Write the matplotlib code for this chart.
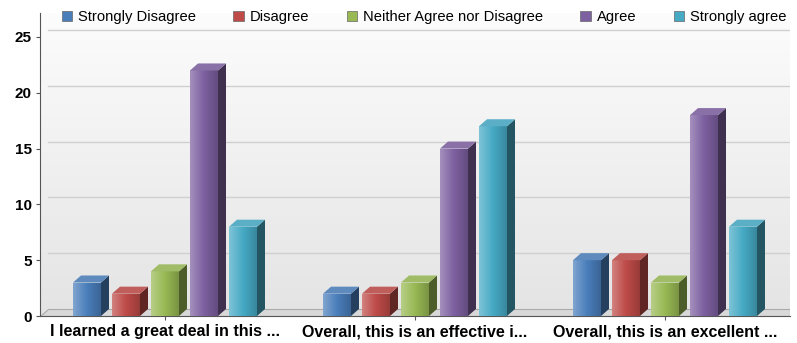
import numpy as np
import matplotlib
matplotlib.use("Agg")
import matplotlib.pyplot as plt
from matplotlib.patches import Polygon
import matplotlib.colors as mcolors

categories = ["I learned a great deal in this ...",
              "Overall, this is an effective i...",
              "Overall, this is an excellent ..."]
series = ["Strongly Disagree", "Disagree", "Neither Agree nor Disagree", "Agree", "Strongly agree"]
values = {
    "Strongly Disagree": [3, 2, 5],
    "Disagree": [2, 2, 5],
    "Neither Agree nor Disagree": [4, 3, 3],
    "Agree": [22, 15, 18],
    "Strongly agree": [8, 17, 8],
}
colors = ["#4a7ebb", "#be4b48", "#98b954", "#7d60a0", "#46aac5"]
yticks = [0, 5, 10, 15, 20, 25]

plt.rcParams['font.family'] = ['Liberation Sans', 'DejaVu Sans']

fig = plt.figure(figsize=(7.97, 3.43), dpi=100)
ax = fig.add_axes([40/797, 27/343, 750/797, 303/343])
ymax = 303/11.16
ax.set_xlim(-0.5, 2.5)
ax.set_ylim(0, ymax)

dx, dy = 0.032, 0.63
w = 0.112
step = 0.156

# background planes
bg = np.linspace(0, 1, 100).reshape(-1, 1)
ax.imshow(bg, extent=(-0.5, 2.5, 0, ymax), aspect='auto', origin='lower',
          cmap=mcolors.LinearSegmentedColormap.from_list('b', ['#e4e4e4', '#fcfcfc']), zorder=0)
for t in yticks[1:]:
    ax.plot([-0.5 + dx, 2.5], [t + dy, t + dy], color='#d0d0d0', lw=1, zorder=1)
floor = Polygon([(-0.5, 0), (2.5, 0), (2.5, dy), (-0.5 + dx, dy)], closed=True,
                facecolor='#d8d8d8', edgecolor='#aaaaaa', lw=0.8, zorder=1)
ax.add_patch(floor)

x = np.arange(len(categories))
for i, (s, c) in enumerate(zip(series, colors)):
    xs = x + (i - 2) * step - w / 2
    vals = values[s]
    base = np.array(mcolors.to_rgb(c))
    dark = base * 0.5
    light = np.clip(base + (1 - base) * 0.3, 0, 1)
    topc = np.clip(base * 0.85 + 0.12, 0, 1)
    bars = ax.bar(xs, vals, width=w, align='edge', color=c, zorder=3, lw=0)
    for x0, h, rect in zip(xs, vals, bars):
        grad = np.linspace(0, 1, 50).reshape(1, -1)
        cmap = mcolors.LinearSegmentedColormap.from_list('g', [light, base, base * 0.8])
        im = ax.imshow(grad, extent=(x0, x0 + w, 0, h), aspect='auto', cmap=cmap, zorder=3)
        im.set_clip_path(rect)
        side = Polygon([(x0 + w, 0), (x0 + w + dx, dy), (x0 + w + dx, h + dy), (x0 + w, h)],
                       closed=True, facecolor=dark, lw=0, zorder=3)
        top = Polygon([(x0, h), (x0 + w, h), (x0 + w + dx, h + dy), (x0 + dx, h + dy)],
                      closed=True, facecolor=topc, lw=0, zorder=3)
        ax.add_patch(side)
        ax.add_patch(top)

ax.set_xlim(-0.5, 2.5)
ax.set_ylim(0, ymax)
ax.set_xticks(x)
ax.set_xticklabels(categories, fontsize=11.5, fontweight='bold')
ax.set_yticks(yticks)
ax.set_yticklabels([str(t) for t in yticks], fontsize=11, fontweight='bold')
ax.tick_params(axis='both', length=3, color='#555555', pad=3)
for sp in ['top', 'right']:
    ax.spines[sp].set_visible(False)
ax.spines['left'].set_color('#555555')
ax.spines['bottom'].set_color('#555555')

handles = [plt.Rectangle((0, 0), 1, 1, facecolor=c, edgecolor='#666666', lw=0.5) for c in colors]
fig.legend(handles, series, loc='center', bbox_to_anchor=(424/797, 1 - 17/343), ncol=5,
           frameon=False, fontsize=10.6, handlelength=0.7, handleheight=0.7,
           handletextpad=0.4, columnspacing=2.55)

fig.savefig("out.png", dpi=100)
